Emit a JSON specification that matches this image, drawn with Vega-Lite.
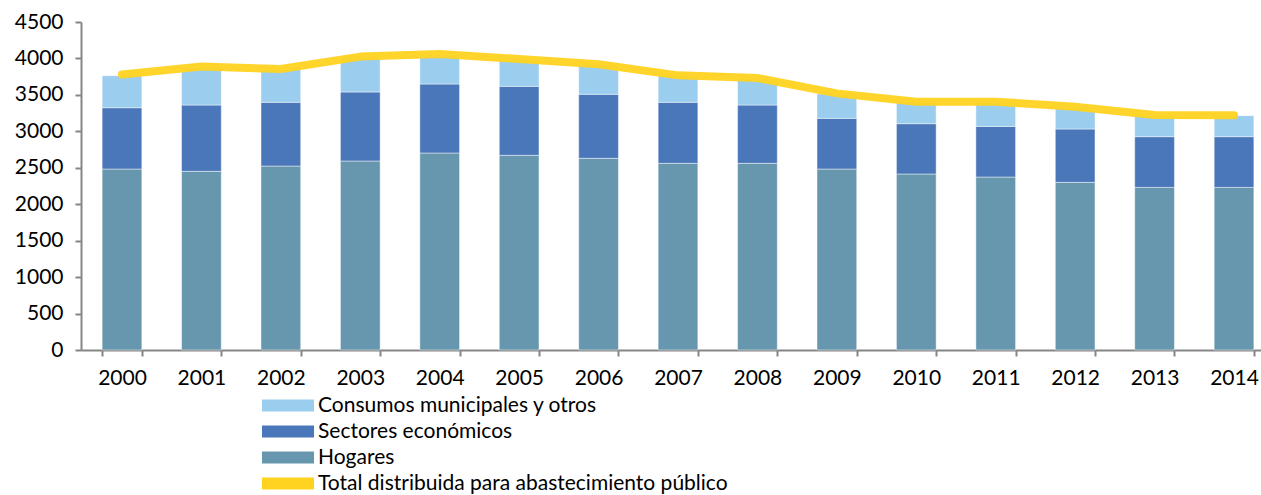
{
  "$schema": "https://vega.github.io/schema/vega-lite/v6.json",
  "width": 1180,
  "height": 328,
  "autosize": {"type": "none"},
  "padding": {"left": 81, "top": 22, "right": 0, "bottom": 145},
  "background": "white",
  "config": {
    "view": {"stroke": null},
    "font": "Lato",
    "axis": {"labelFont": "Lato", "labelFontSize": 21, "labelColor": "#000000", "domainColor": "#868686", "tickColor": "#868686", "domainWidth": 2, "tickWidth": 2, "grid": false, "title": null, "labelOverlap": false}
  },
  "datasets": {
    "barras": [
      {"anio": "2000", "serie": "Hogares", "ord": 1, "valor": 2483},
      {"anio": "2000", "serie": "Sectores económicos", "ord": 2, "valor": 841},
      {"anio": "2000", "serie": "Consumos municipales y otros", "ord": 3, "valor": 439},
      {"anio": "2001", "serie": "Hogares", "ord": 1, "valor": 2451},
      {"anio": "2001", "serie": "Sectores económicos", "ord": 2, "valor": 910},
      {"anio": "2001", "serie": "Consumos municipales y otros", "ord": 3, "valor": 519},
      {"anio": "2002", "serie": "Hogares", "ord": 1, "valor": 2524},
      {"anio": "2002", "serie": "Sectores económicos", "ord": 2, "valor": 874},
      {"anio": "2002", "serie": "Consumos municipales y otros", "ord": 3, "valor": 450},
      {"anio": "2003", "serie": "Hogares", "ord": 1, "valor": 2593},
      {"anio": "2003", "serie": "Sectores económicos", "ord": 2, "valor": 947},
      {"anio": "2003", "serie": "Consumos municipales y otros", "ord": 3, "valor": 475},
      {"anio": "2004", "serie": "Hogares", "ord": 1, "valor": 2703},
      {"anio": "2004", "serie": "Sectores económicos", "ord": 2, "valor": 946},
      {"anio": "2004", "serie": "Consumos municipales y otros", "ord": 3, "valor": 405},
      {"anio": "2005", "serie": "Hogares", "ord": 1, "valor": 2671},
      {"anio": "2005", "serie": "Sectores económicos", "ord": 2, "valor": 946},
      {"anio": "2005", "serie": "Consumos municipales y otros", "ord": 3, "valor": 368},
      {"anio": "2006", "serie": "Hogares", "ord": 1, "valor": 2630},
      {"anio": "2006", "serie": "Sectores económicos", "ord": 2, "valor": 878},
      {"anio": "2006", "serie": "Consumos municipales y otros", "ord": 3, "valor": 404},
      {"anio": "2007", "serie": "Hogares", "ord": 1, "valor": 2561},
      {"anio": "2007", "serie": "Sectores económicos", "ord": 2, "valor": 837},
      {"anio": "2007", "serie": "Consumos municipales y otros", "ord": 3, "valor": 362},
      {"anio": "2008", "serie": "Hogares", "ord": 1, "valor": 2561},
      {"anio": "2008", "serie": "Sectores económicos", "ord": 2, "valor": 800},
      {"anio": "2008", "serie": "Consumos municipales y otros", "ord": 3, "valor": 364},
      {"anio": "2009", "serie": "Hogares", "ord": 1, "valor": 2483},
      {"anio": "2009", "serie": "Sectores económicos", "ord": 2, "valor": 695},
      {"anio": "2009", "serie": "Consumos municipales y otros", "ord": 3, "valor": 335},
      {"anio": "2010", "serie": "Hogares", "ord": 1, "valor": 2415},
      {"anio": "2010", "serie": "Sectores económicos", "ord": 2, "valor": 690},
      {"anio": "2010", "serie": "Consumos municipales y otros", "ord": 3, "valor": 295},
      {"anio": "2011", "serie": "Hogares", "ord": 1, "valor": 2373},
      {"anio": "2011", "serie": "Sectores económicos", "ord": 2, "valor": 695},
      {"anio": "2011", "serie": "Consumos municipales y otros", "ord": 3, "valor": 332},
      {"anio": "2012", "serie": "Hogares", "ord": 1, "valor": 2300},
      {"anio": "2012", "serie": "Sectores económicos", "ord": 2, "valor": 732},
      {"anio": "2012", "serie": "Consumos municipales y otros", "ord": 3, "valor": 300},
      {"anio": "2013", "serie": "Hogares", "ord": 1, "valor": 2231},
      {"anio": "2013", "serie": "Sectores económicos", "ord": 2, "valor": 696},
      {"anio": "2013", "serie": "Consumos municipales y otros", "ord": 3, "valor": 290},
      {"anio": "2014", "serie": "Hogares", "ord": 1, "valor": 2231},
      {"anio": "2014", "serie": "Sectores económicos", "ord": 2, "valor": 696},
      {"anio": "2014", "serie": "Consumos municipales y otros", "ord": 3, "valor": 288}
    ],
    "total": [
      {"anio": "2000", "serie": "Total distribuida para abastecimiento público", "valor": 3780},
      {"anio": "2001", "serie": "Total distribuida para abastecimiento público", "valor": 3890},
      {"anio": "2002", "serie": "Total distribuida para abastecimiento público", "valor": 3855},
      {"anio": "2003", "serie": "Total distribuida para abastecimiento público", "valor": 4025},
      {"anio": "2004", "serie": "Total distribuida para abastecimiento público", "valor": 4060},
      {"anio": "2005", "serie": "Total distribuida para abastecimiento público", "valor": 3992},
      {"anio": "2006", "serie": "Total distribuida para abastecimiento público", "valor": 3920},
      {"anio": "2007", "serie": "Total distribuida para abastecimiento público", "valor": 3768},
      {"anio": "2008", "serie": "Total distribuida para abastecimiento público", "valor": 3732},
      {"anio": "2009", "serie": "Total distribuida para abastecimiento público", "valor": 3521},
      {"anio": "2010", "serie": "Total distribuida para abastecimiento público", "valor": 3406},
      {"anio": "2011", "serie": "Total distribuida para abastecimiento público", "valor": 3406},
      {"anio": "2012", "serie": "Total distribuida para abastecimiento público", "valor": 3338},
      {"anio": "2013", "serie": "Total distribuida para abastecimiento público", "valor": 3224},
      {"anio": "2014", "serie": "Total distribuida para abastecimiento público", "valor": 3222}
    ]
  },
  "encoding": {
    "x": {
      "field": "anio", "type": "ordinal",
      "scale": {"paddingInner": 0.5, "paddingOuter": 0.266, "range": [0, 1194]},
      "axis": {"labelAngle": 0, "tickBand": "extent", "tickSize": 6, "labelPadding": 11}
    },
    "y": {
      "field": "valor", "type": "quantitative",
      "scale": {"domain": [0, 4500], "nice": false},
      "axis": {"values": [0, 500, 1000, 1500, 2000, 2500, 3000, 3500, 4000, 4500], "format": "d", "tickSize": 6, "labelPadding": 12}
    }
  },
  "layer": [
    {
      "data": {"name": "barras"},
      "mark": {"type": "bar", "stroke": "#ffffff", "strokeWidth": 1, "strokeOpacity": 0.45},
      "encoding": {
        "y": {
          "field": "valor", "type": "quantitative", "stack": "zero",
          "scale": {"domain": [0, 4500], "nice": false},
          "axis": {"values": [0, 500, 1000, 1500, 2000, 2500, 3000, 3500, 4000, 4500], "format": "d", "tickSize": 6, "labelPadding": 12}
        },
        "order": {"field": "ord", "type": "quantitative", "sort": "ascending"},
        "color": {
          "field": "serie", "type": "nominal",
          "scale": {
            "domain": ["Consumos municipales y otros", "Sectores económicos", "Hogares", "Total distribuida para abastecimiento público"],
            "range": ["#9BCDEF", "#4A76BA", "#6797AE", "#FFD320"]
          },
          "legend": {
            "title": null,
            "orient": "none",
            "legendX": 181,
            "legendY": 372,
            "direction": "vertical",
            "labelFont": "Lato",
            "labelFontSize": 21,
            "labelColor": "#000000",
            "labelOffset": 4,
            "labelLimit": 700,
            "symbolType": "M-1,-0.23H1V0.23H-1Z",
            "symbolSize": 2704,
            "symbolStrokeWidth": 0,
            "clipHeight": 23,
            "rowPadding": 3,
            "padding": 0
          }
        }
      }
    },
    {
      "data": {"name": "total"},
      "mark": {"type": "line", "strokeWidth": 8, "strokeCap": "round", "strokeJoin": "round", "opacity": 0.95},
      "encoding": {
        "color": {"field": "serie", "type": "nominal"}
      }
    }
  ]
}
